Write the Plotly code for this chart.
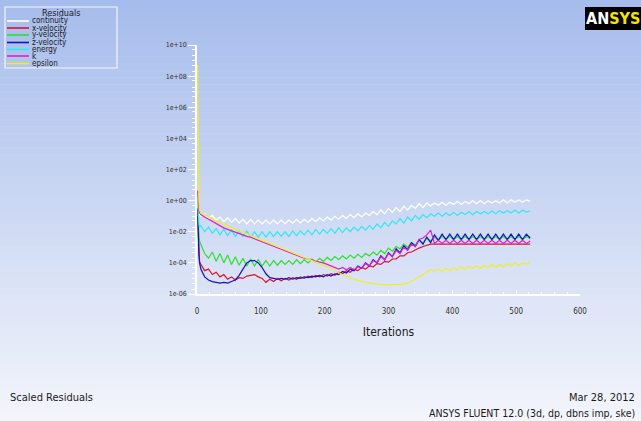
import plotly.graph_objects as go
import numpy as np

# ---------------- data (log10 of scaled residual) ----------------
ITERATIONS = [1, 2, 3, 4] + list(range(6, 523, 6))

continuity = [0.0, -0.5, -0.8, -0.9, -1.0,
              -0.85, -1.15, -0.95, -1.25, -1.05, -1.35, -1.1, -1.4, -1.15, -1.45,
              -1.2, -1.5, -1.2, -1.5, -1.25, -1.5, -1.25, -1.5, -1.25, -1.5,
              -1.25, -1.5, -1.25, -1.45, -1.2, -1.45, -1.2, -1.4, -1.15, -1.35,
              -1.1, -1.3, -1.05, -1.25, -1.0, -1.2, -0.95, -1.15, -0.9, -1.1,
              -0.85, -1.05, -0.8, -0.95, -0.7, -0.9, -0.6, -0.85, -0.5, -0.75,
              -0.45, -0.7, -0.35, -0.6, -0.3, -0.5, -0.2, -0.45, -0.15, -0.35,
              -0.15, -0.3, -0.1, -0.3, -0.1, -0.25, -0.05, -0.25, -0.05, -0.2,
              0.0, -0.2, 0.0, -0.2, 0.0, -0.15, 0.0, -0.15, 0.05, -0.15,
              0.05, -0.1, 0.05, -0.1, 0.05, -0.05]

x_velocity = [-1.0, -2.5, -3.5, -3.9, -4.1,
              -4.5, -4.4, -4.75, -4.6, -4.9, -4.75, -5.05, -4.9, -5.1, -4.95,
              -5.0, -4.85, -4.8, -4.75, -4.9, -5.0, -5.25, -5.05, -5.2, -5.0,
              -5.15, -5.0, -5.1, -4.95, -5.05, -4.9, -5.0, -4.85, -4.95, -4.8,
              -4.9, -4.75, -4.85, -4.7, -4.8, -4.6, -4.7, -4.5, -4.6, -4.4,
              -4.5, -4.3, -4.4, -4.2, -4.25, -4.05, -4.1, -3.9, -3.95, -3.75,
              -3.75, -3.55, -3.55, -3.35, -3.3, -3.15, -3.05, -2.95, -2.85, -2.8,
              -2.8, -2.8, -2.8, -2.8, -2.8, -2.8, -2.8, -2.8, -2.8, -2.8,
              -2.8, -2.8, -2.8, -2.8, -2.8, -2.8, -2.8, -2.8, -2.8, -2.8,
              -2.8, -2.8, -2.8, -2.8, -2.8, -2.8]

y_velocity = [-1.0, -1.8, -2.4, -2.6, -2.8,
              -3.4, -3.7, -3.3, -3.9, -3.4, -4.0, -3.5, -4.1, -3.6, -4.15,
              -3.7, -4.2, -3.75, -4.2, -3.8, -4.2, -3.85, -4.2, -3.85, -4.15,
              -3.85, -4.1, -3.85, -4.1, -3.8, -4.05, -3.8, -4.0, -3.75, -3.95,
              -3.7, -3.9, -3.65, -3.85, -3.6, -3.8, -3.55, -3.75, -3.5, -3.7,
              -3.45, -3.65, -3.4, -3.55, -3.3, -3.5, -3.2, -3.4, -3.05, -3.25,
              -2.95, -3.1, -2.8, -3.0, -2.7, -2.85, -2.55, -2.7, -2.4, -2.6,
              -2.35, -2.55, -2.3, -2.5, -2.3, -2.5, -2.3, -2.5, -2.3, -2.5,
              -2.3, -2.5, -2.3, -2.5, -2.3, -2.5, -2.3, -2.5, -2.3, -2.5,
              -2.3, -2.5, -2.3, -2.5, -2.3, -2.45]

z_velocity = [-0.5, -2.5, -3.5, -4.0, -4.4,
              -4.9, -5.1, -5.2, -5.25, -5.3, -5.25, -5.3, -5.2, -5.1, -4.8,
              -4.4, -4.0, -3.85, -3.85, -4.0, -4.3, -4.7, -4.95, -5.0, -5.05,
              -5.0, -5.05, -4.95, -5.05, -4.95, -5.0, -4.9, -4.95, -4.85, -4.9,
              -4.8, -4.9, -4.75, -4.85, -4.7, -4.75, -4.55, -4.65, -4.4, -4.5,
              -4.2, -4.35, -4.0, -4.2, -3.8, -4.0, -3.55, -3.8, -3.35, -3.6,
              -3.1, -3.35, -2.9, -3.15, -2.7, -2.95, -2.5, -2.8, -2.35, -2.7,
              -2.2, -2.55, -2.15, -2.5, -2.15, -2.5, -2.15, -2.5, -2.15, -2.5,
              -2.15, -2.5, -2.15, -2.5, -2.15, -2.5, -2.15, -2.5, -2.15, -2.5,
              -2.15, -2.5, -2.15, -2.5, -2.15, -2.4]

energy = [0.0, -1.0, -1.5, -1.7, -1.6,
          -2.0, -1.7, -2.1, -1.8, -2.2, -1.85, -2.25, -1.9, -2.3, -1.95,
          -2.3, -1.95, -2.35, -2.0, -2.35, -2.0, -2.35, -2.0, -2.3, -2.0,
          -2.3, -2.0, -2.3, -1.95, -2.25, -1.95, -2.2, -1.9, -2.2, -1.85,
          -2.15, -1.85, -2.1, -1.8, -2.1, -1.75, -2.05, -1.75, -2.0, -1.7,
          -1.95, -1.65, -1.9, -1.6, -1.85, -1.5, -1.75, -1.4, -1.65, -1.3,
          -1.5, -1.15, -1.45, -1.05, -1.3, -0.95, -1.2, -0.9, -1.1, -0.85,
          -1.0, -0.8, -1.0, -0.8, -0.95, -0.75, -0.95, -0.75, -0.9, -0.7,
          -0.9, -0.7, -0.85, -0.7, -0.85, -0.65, -0.85, -0.65, -0.8, -0.65,
          -0.8, -0.6, -0.8, -0.6, -0.75, -0.65]

k = [0.65, -0.2, -0.6, -0.8, -0.9,
     -1.05, -1.2, -1.35, -1.5, -1.6, -1.75, -1.85, -1.95, -2.0, -2.1,
     -2.2, -2.3, -2.35, -2.45, -2.55, -2.65, -2.75, -2.85, -2.95, -3.05,
     -3.15, -3.25, -3.35, -3.45, -3.55, -3.6, -3.7, -3.75, -3.8, -3.9,
     -3.95, -4.0, -4.1, -4.2, -4.3, -4.4, -4.3, -4.45, -4.3, -4.45,
     -4.25, -4.35, -4.05, -4.2, -3.85, -4.0, -3.6, -3.8, -3.4, -3.6,
     -3.2, -3.4, -3.0, -3.2, -2.8, -2.95, -2.5, -2.4, -2.2, -1.9,
     -2.75, -2.55, -2.75, -2.55, -2.75, -2.55, -2.75, -2.55, -2.75, -2.55,
     -2.75, -2.55, -2.75, -2.55, -2.75, -2.55, -2.75, -2.55, -2.75, -2.55,
     -2.75, -2.55, -2.75, -2.55, -2.75, -2.6]

epsilon = [8.7, 2.0, 0.0, -0.6, -0.8,
           -0.9, -1.0, -1.15, -1.3, -1.4, -1.5, -1.65, -1.75, -1.85, -1.95,
           -2.05, -2.15, -2.25, -2.35, -2.45, -2.55, -2.65, -2.75, -2.85, -2.95,
           -3.05, -3.15, -3.25, -3.35, -3.45, -3.55, -3.65, -3.75, -3.85, -3.9,
           -4.0, -4.1, -4.2, -4.35, -4.5, -4.65, -4.75, -4.85, -4.95, -5.05,
           -5.12, -5.18, -5.25, -5.3, -5.33, -5.36, -5.4, -5.4, -5.4, -5.4,
           -5.4, -5.38, -5.35, -5.3, -5.2, -5.05, -4.9, -4.75, -4.6, -4.45,
           -4.55, -4.4, -4.55, -4.35, -4.5, -4.3, -4.45, -4.25, -4.4, -4.2,
           -4.35, -4.2, -4.35, -4.15, -4.3, -4.1, -4.3, -4.1, -4.25, -4.05,
           -4.2, -4.0, -4.15, -4.0, -4.1, -3.95]

SERIES_NAMES = ["continuity", "x-velocity", "y-velocity", "z-velocity", "energy", "k", "epsilon"]
SERIES_VALUES = [continuity, x_velocity, y_velocity, z_velocity, energy, k, epsilon]
SERIES_COLORS = ["#ffffff", "#e0102a", "#2ee02e", "#1010c8", "#30e8f0", "#e020c8", "#f0f020"]

Y_TICKS = [1e-6, 1e-4, 1e-2, 1e0, 1e2, 1e4, 1e6, 1e8, 1e10]
Y_TICK_TEXT = ["1e-06", "1e-04", "1e-02", "1e+00", "1e+02", "1e+04", "1e+06", "1e+08", "1e+10"]
X_TICKS = [0, 100, 200, 300, 400, 500, 600]

# ---------------- layout geometry ----------------
W, H = 641, 421
L, R, T, B = 197, 61, 45, 127
PW, PH = W - L - R, H - T - B


def pxx(x):
    return (x - L) / PW


def pyy(y):
    return (H - B - y) / PH


FONT = "DejaVu Sans Condensed, Liberation Sans Narrow, Arial Narrow, Liberation Sans, sans-serif"
TXT = "#1a1a1a"

fig = go.Figure()
for name, vals, col in zip(SERIES_NAMES, SERIES_VALUES, SERIES_COLORS):
    fig.add_trace(go.Scatter(
        x=ITERATIONS, y=np.power(10.0, np.array(vals)), mode="lines", name=name,
        line=dict(color=col, width=1.2), showlegend=False, hoverinfo="skip"))

shapes = []
# background gradient (light blue top -> near white bottom)
NB = 60
top = np.array([166, 188, 236])
bot = np.array([244, 246, 252])
for i in range(NB):
    y0 = H * i / NB
    y1 = H * (i + 1) / NB + 0.5
    c = top + (bot - top) * (i + 0.5) / NB
    shapes.append(dict(type="rect", xref="paper", yref="paper", layer="below",
                       x0=pxx(0), x1=pxx(W), y0=pyy(y0), y1=pyy(y1),
                       line=dict(width=0), fillcolor="rgb(%d,%d,%d)" % tuple(c)))

# legend box
shapes.append(dict(type="rect", xref="paper", yref="paper", x0=pxx(5), x1=pxx(117),
                   y0=pyy(7), y1=pyy(68), line=dict(color="#f4f6fb", width=1.2)))
annotations = [dict(text="Residuals", x=pxx(61), y=pyy(13), xref="paper", yref="paper",
                    xanchor="center", yanchor="middle", showarrow=False,
                    font=dict(family=FONT, size=9, color=TXT))]
leg_y = [21, 28, 35, 42.5, 49.5, 56, 63.5]
for name, col, ly in zip(SERIES_NAMES, SERIES_COLORS, leg_y):
    shapes.append(dict(type="line", xref="paper", yref="paper", x0=pxx(7), x1=pxx(29),
                       y0=pyy(ly), y1=pyy(ly), line=dict(color=col, width=1.6)))
    annotations.append(dict(text=name, x=pxx(30), y=pyy(ly), xref="paper", yref="paper",
                            xanchor="left", yanchor="middle", showarrow=False,
                            font=dict(family=FONT, size=8, color=TXT)))

# ANSYS logo
shapes.append(dict(type="rect", xref="paper", yref="paper", x0=pxx(585), x1=pxx(641),
                   y0=pyy(7), y1=pyy(30), line=dict(width=0), fillcolor="#000000"))
annotations.append(dict(text="<b><span style='color:white'>AN</span><span style='color:#f2e600'>SYS</span></b>",
                        x=pxx(613), y=pyy(18.5), xref="paper", yref="paper",
                        xanchor="center", yanchor="middle", showarrow=False,
                        font=dict(family=FONT, size=16, color="white")))

# footer texts
annotations.append(dict(text="Scaled Residuals", x=pxx(8), y=pyy(398), xref="paper", yref="paper",
                        xanchor="left", yanchor="middle", showarrow=False,
                        font=dict(family=FONT, size=11, color=TXT)))
annotations.append(dict(text="Mar 28, 2012", x=pxx(637), y=pyy(398), xref="paper", yref="paper",
                        xanchor="right", yanchor="middle", showarrow=False,
                        font=dict(family=FONT, size=11, color=TXT)))
annotations.append(dict(text="ANSYS FLUENT 12.0 (3d, dp, dbns imp, ske)", x=pxx(637), y=pyy(413),
                        xref="paper", yref="paper", xanchor="right", yanchor="middle",
                        showarrow=False, font=dict(family=FONT, size=10.5, color=TXT)))

fig.update_layout(
    width=W, height=H, margin=dict(l=L, r=R, t=T, b=B, pad=0),
    paper_bgcolor="#f0f3fb", plot_bgcolor="rgba(0,0,0,0)",
    shapes=shapes, annotations=annotations, showlegend=False,
    xaxis=dict(range=[0, 600], tickvals=X_TICKS, ticks="inside", ticklen=4, tickcolor="white",
               showline=True, linecolor="white", linewidth=1.5, showgrid=False, zeroline=False,
               tickfont=dict(family=FONT, size=8, color="#333333"), ticklabelstandoff=9,
               minor=dict(ticks="inside", ticklen=2, tickcolor="white", dtick=20),
               title=dict(text="Iterations", standoff=12,
                          font=dict(family=FONT, size=12, color=TXT))),
    yaxis=dict(type="log", range=[-6, 10], tickvals=Y_TICKS, ticktext=Y_TICK_TEXT,
               ticks="outside", ticklen=7, tickcolor="white", showline=True, linecolor="white",
               linewidth=1.5, showgrid=False, zeroline=False,
               tickfont=dict(family=FONT, size=7, color="#333333"),
               minor=dict(ticks="outside", ticklen=3, tickcolor="white", dtick="D2")),
)

fig.write_html("out.html")
